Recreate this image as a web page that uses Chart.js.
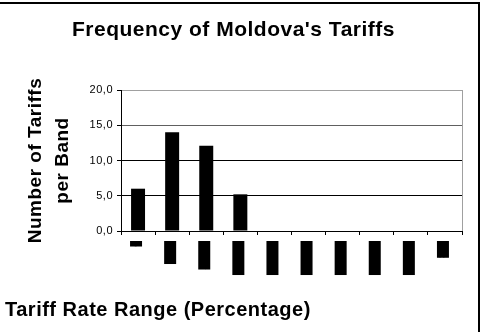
<!DOCTYPE html>
<html>
<head>
<meta charset="utf-8">
<script src="https://cdn.jsdelivr.net/npm/chart.js@4/dist/chart.umd.min.js"></script>
<style>
  html, body { margin: 0; padding: 0; background: #fff; }
  body { width: 483px; height: 332px; position: relative; overflow: hidden; }
  #wrap { position: absolute; left: 5px; top: 0; width: 470px; height: 332px; }
  #frame {
    position: absolute; left: 0; top: 2px; width: 478px; height: 330px;
    border-top: 2px solid #000; border-right: 2px solid #000;
    box-sizing: content-box; pointer-events: none;
  }
</style>
</head>
<body>
<div id="wrap"><canvas id="grafico"></canvas></div>
<div id="frame"></div>
<script>
// bandas arancelarias y numero de aranceles en cada una
const bandas = ["0", "0,1-5", "5,1-10", "10,1-15", "15,1-20", "20,1-25", "25,1-30", "30,1-35", "35,1-40", ">40"];
const frecuencias = [6, 14, 12.1, 5.2, 0, 0, 0, 0, 0, 0];
const ejeY = { min: 0, max: 20, paso: 5 };

const titulo = "Frequency of Moldova's Tariffs";
const tituloY = ["Number of Tariffs", "per Band"];
const tituloX = "Tariff Rate Range (Percentage)";

Chart.defaults.font.family = "'Liberation Sans', Arial, sans-serif";
Chart.defaults.color = "#000";

// texto algo espaciado, como sale en el grafico exportado
const espaciado = {
  id: 'espaciado',
  beforeUpdate(chart) { chart.ctx.letterSpacing = '0.5px'; },
  beforeDraw(chart) { chart.ctx.letterSpacing = '0.5px'; }
};

// borde gris a la derecha del area de trazado
const marco = {
  id: 'marco',
  afterDraw(chart) {
    const { ctx, chartArea: a } = chart;
    ctx.save();
    ctx.strokeStyle = '#a0a0a0';
    ctx.lineWidth = 1;
    ctx.beginPath();
    ctx.moveTo(Math.round(a.right) + 0.5, a.top);
    ctx.lineTo(Math.round(a.right) + 0.5, a.bottom);
    ctx.stroke();
    ctx.restore();
  }
};

new Chart(document.getElementById("grafico"), {
  type: 'bar',
  data: {
    labels: bandas,
    datasets: [{
      data: frecuencias,
      backgroundColor: "#000",
      borderWidth: 0,
      barPercentage: 0.41,
      categoryPercentage: 1
    }]
  },
  options: {
    responsive: true, maintainAspectRatio: false,
    animation: false,
    layout: { padding: { left: 0, right: 13, top: 0, bottom: 0 } },
    plugins: {
      legend: { display: false },
      tooltip: { enabled: false },
      title: {
        display: true, text: titulo,
        font: { size: 21, weight: 'bold' }, lineHeight: 1.2,
        padding: { top: 18, bottom: 46.8 }
      },
      subtitle: {
        display: true, text: tituloX, position: 'bottom', align: 'start',
        color: "#000",
        font: { size: 20, weight: 'bold' }, lineHeight: 1.2,
        padding: { top: 7.5, bottom: 9.5 }
      }
    },
    scales: {
      x: {
        afterFit(s) { s.height = 60; },
        grid: { display: true, drawOnChartArea: false, drawTicks: true, tickLength: 4, color: "#000", tickColor: "#000" },
        border: { display: true, color: "#000" },
        ticks: {
          autoSkip: false, minRotation: 90, maxRotation: 90, padding: 6,
          labelOffset: -8,
          font: { size: 9, weight: 'bold', lineHeight: 1.333 },
          color: "#000",
          showLabelBackdrop: true, backdropColor: "#000", backdropPadding: 0
        }
      },
      y: {
        min: ejeY.min, max: ejeY.max,
        afterFit(s) { s.width = 116; },
        grid: {
          drawTicks: true, tickLength: 4, tickColor: "#000",
          color: c => c.tick.value === 20 ? '#a0a0a0' : (c.tick.value === 15 ? '#606060' : '#000')
        },
        border: { display: true, color: "#000" },
        ticks: {
          stepSize: ejeY.paso, padding: 4,
          font: { size: 11 },
          callback: v => v.toFixed(1).replace('.', ',')
        },
        title: {
          display: true, text: tituloY,
          font: { size: 19, weight: 'bold', lineHeight: 1.4 },
          padding: { top: 17.5, bottom: 0 }
        }
      }
    }
  },
  plugins: [espaciado, marco]
});
</script>
</body>
</html>
